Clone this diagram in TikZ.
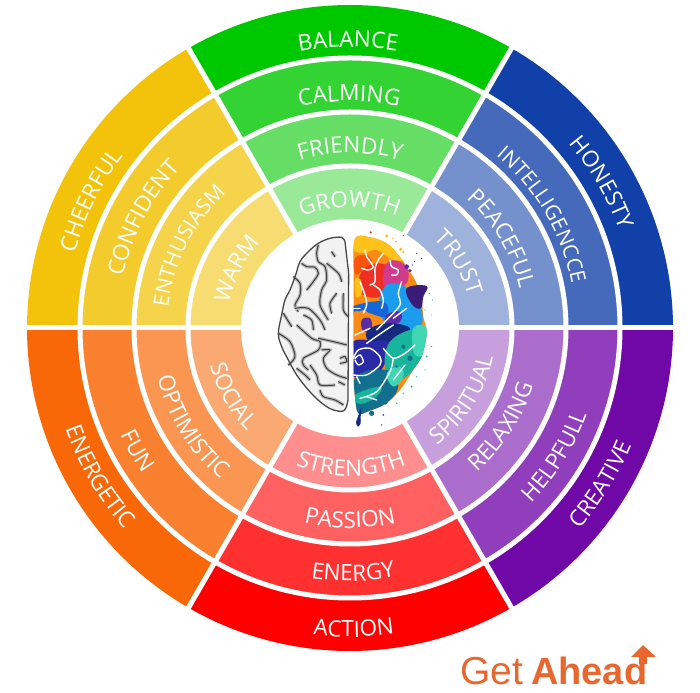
\documentclass[tikz,border=0pt]{standalone}
\usepackage{fontspec}
\setmainfont{Open Sans}
\newfontfamily\logofont{Liberation Sans}
\usetikzlibrary{decorations.text}

\definecolor{wheelyellow}{HTML}{F2C30A}
\definecolor{wheelgreen}{HTML}{00C800}
\definecolor{wheelblue}{HTML}{1040A8}
\definecolor{wheelpurple}{HTML}{7008A8}
\definecolor{wheelred}{HTML}{FF0000}
\definecolor{wheelorange}{HTML}{F86808}
\definecolor{logoorange}{HTML}{E8672E}

\definecolor{brainyellow}{HTML}{FFC21A}
\definecolor{brainorange}{HTML}{FA8C16}
\definecolor{brainred}{HTML}{EE2F24}
\definecolor{brainpink}{HTML}{D23A8C}
\definecolor{brainsky}{HTML}{1C9CEC}
\definecolor{brainblue}{HTML}{1666D8}
\definecolor{brainpurple}{HTML}{5B2CA8}
\definecolor{braindark}{HTML}{3A1C78}
\definecolor{brainnavy}{HTML}{162A80}
\definecolor{brainindigo}{HTML}{2B2AA6}
\definecolor{brainteal}{HTML}{18B49C}
\definecolor{brainmint}{HTML}{3FD6B4}
\definecolor{brainsea}{HTML}{126F8E}

\tikzset{
  gapline/.style={draw=white,line width=5pt},
  sulcus/.style={draw=black!75,line width=1pt,line cap=round,
    preaction={draw=black!28,line width=3.4pt}},
  vein/.style={draw=white,line width=1.4pt,line cap=round}
}

\newcommand{\colorwedge}[5]{
  \fill[#2] (0,0) -- (#1:323) arc[start angle=#1,end angle=#1+60,radius=323] -- cycle;
  \fill[#2!#3!white] (0,0) -- (#1:270) arc[start angle=#1,end angle=#1+60,radius=270] -- cycle;
  \fill[#2!#4!white] (0,0) -- (#1:216) arc[start angle=#1,end angle=#1+60,radius=216] -- cycle;
  \fill[#2!#5!white] (0,0) -- (#1:162) arc[start angle=#1,end angle=#1+60,radius=162] -- cycle;
}

\newcommand{\upperlabel}[4][22.5]{
  \path[decorate,decoration={text along path,text align=center,
    text={|\fontsize{#1}{#1}\selectfont\color{white}|#4}}]
    (#3+60:#2) arc[start angle=#3+60,end angle=#3-60,radius=#2];
}
\newcommand{\lowerlabel}[4][22.5]{
  \path[decorate,decoration={text along path,text align=center,
    text={|\fontsize{#1}{#1}\selectfont\color{white}|#4}}]
    (#3-60:#2) arc[start angle=#3-60,end angle=#3+60,radius=#2];
}

\newcommand{\brainblob}[2]{
  \fill[#1] plot[smooth cycle,tension=0.7] coordinates {#2};
}

\begin{document}
\begin{tikzpicture}[x=1pt,y=1pt]
  \useasboundingbox (0,0) rectangle (700,692);

  \begin{scope}[shift={(350,364)}]
    \colorwedge{0}{wheelblue}{78}{58}{40}
    \colorwedge{60}{wheelgreen}{80}{60}{40}
    \colorwedge{120}{wheelyellow}{86}{74}{58}
    \colorwedge{180}{wheelorange}{84}{70}{57}
    \colorwedge{240}{wheelred}{81}{62}{44}
    \colorwedge{300}{wheelpurple}{78}{59}{39}
    \fill[white] (0,0) circle (109);

    \draw[gapline] (0,0) circle (270);
    \draw[gapline] (0,0) circle (216);
    \draw[gapline] (0,0) circle (162);
    \draw[gapline] (0:109) -- (0:330);
    \draw[gapline] (60:109) -- (60:330);
    \draw[gapline] (120:109) -- (120:330);
    \draw[gapline] (180:109) -- (180:330);
    \draw[gapline] (240:109) -- (240:330);
    \draw[gapline] (300:109) -- (300:330);

    \upperlabel{281}{90.4}{BALANCE}
    \upperlabel{227}{90.2}{CALMING}
    \upperlabel{175}{90}{FRIENDLY}
    \upperlabel{121}{90.2}{GROWTH}

    \upperlabel{285}{153.8}{CHEERFUL}
    \upperlabel{233}{152}{CONFIDENT}
    \upperlabel[21]{183}{153}{ENTHUSIASM}
    \upperlabel{123}{152.5}{WARM}

    \upperlabel{286}{30}{HONESTY}
    \upperlabel[20.8]{226}{30.5}{INTELLIGENCCE}
    \upperlabel{174}{30.5}{PEACEFUL}
    \upperlabel{122}{31}{TRUST}

    \lowerlabel{305}{-32}{CREATIVE}
    \lowerlabel{252}{-32}{HELPFULL}
    \lowerlabel{192}{-33}{RELAXING}
    \lowerlabel{146}{-32.5}{SPIRITUAL}

    \lowerlabel{309}{270.7}{ACTION}
    \lowerlabel{253}{270.7}{ENERGY}
    \lowerlabel{200}{270}{PASSION}
    \lowerlabel{148}{270.4}{STRENGTH}

    \lowerlabel{302}{210.7}{ENERGETIC}
    \lowerlabel{253}{210}{FUN}
    \lowerlabel{199}{212}{OPTIMISTIC}
    \lowerlabel{145}{210}{SOCIAL}
  \end{scope}

  % brain, in pixels of a 3x crop
  \begin{scope}[shift={(230,492)},x=0.3333pt,y=-0.3333pt]
    \fill[black!5] plot[smooth,tension=0.6] coordinates {(345,125) (335,112) (300,115) (265,130) (235,155) (210,185) (197,225) (180,270) (165,300) (155,345) (145,400) (155,440) (175,480) (200,525) (235,570) (270,605) (305,628) (342,632) (354,600)} -- (356,220) -- cycle;
    \draw[sulcus] plot[smooth] coordinates {(265,135) (260,160) (265,185) (285,200) (290,240) (275,270) (270,315) (295,360)};
    \draw[sulcus] plot[smooth] coordinates {(215,190) (230,200) (255,202) (265,220) (250,245) (230,270)};
    \draw[sulcus] plot[smooth] coordinates {(190,230) (210,250) (210,285) (195,315) (205,335)};
    \draw[sulcus] plot[smooth] coordinates {(305,155) (315,170)};
    \draw[sulcus] plot[smooth] coordinates {(290,190) (325,220) (335,245)};
    \draw[sulcus] plot[smooth] coordinates {(320,280) (300,310) (305,340)};
    \draw[sulcus] plot[smooth] coordinates {(340,280) (340,330) (355,350)};
    \draw[sulcus] plot[smooth] coordinates {(195,325) (235,325) (270,360) (285,390)};
    \draw[sulcus] plot[smooth] coordinates {(160,340) (185,380)};
    \draw[sulcus] plot[smooth] coordinates {(220,345) (245,360) (250,390)};
    \draw[sulcus] plot[smooth] coordinates {(200,375) (245,415) (270,425) (265,450) (220,475) (220,495) (235,510)};
    \draw[sulcus] plot[smooth] coordinates {(145,400) (180,425) (195,470) (175,495)};
    \draw[sulcus] plot[smooth] coordinates {(265,415) (310,425) (350,435)};
    \draw[sulcus] plot[smooth] coordinates {(275,450) (300,450) (280,475) (290,505) (320,525) (350,535)};
    \draw[sulcus] plot[smooth] coordinates {(330,475) (345,470) (350,485) (330,490)};
    \draw[sulcus] plot[smooth] coordinates {(240,495) (260,525) (270,555) (315,555)};
    \draw[sulcus] plot[smooth] coordinates {(325,545) (345,555)};
    \draw[sulcus] plot[smooth] coordinates {(270,570) (280,590) (315,600) (340,615)};
    \draw[sulcus] plot[smooth] coordinates {(200,505) (225,525) (240,540)};
    \draw[black!72,line width=1.3pt] plot[smooth,tension=0.6] coordinates {(345,125) (335,112) (300,115) (265,130) (235,155) (210,185) (197,225) (180,270) (165,300) (155,345) (145,400) (155,440) (175,480) (200,525) (235,570) (270,605) (305,628) (342,632) (354,600)} -- (356,220) -- cycle;

    \begin{scope}
      \clip plot[smooth,tension=0.6] coordinates {(371,200) (375,115) (420,112) (470,130) (505,165) (530,200) (560,250) (575,300) (580,350) (590,400) (575,470) (550,510) (510,570) (470,610) (420,632) (385,640) (375,590) (371,540)} -- cycle;
      \fill[brainorange] (360,100) rectangle (600,650);
      \brainblob{brainyellow}{(365,100) (470,100) (525,170) (490,180) (440,150) (400,160) (365,145)}
      \brainblob{brainorange!60!red}{(375,175) (410,165) (425,190) (395,215) (375,220)}
      \brainblob{brainred}{(400,210) (440,190) (480,205) (470,250) (450,290) (400,285) (385,250)}
      \brainblob{brainpink}{(470,190) (510,185) (535,215) (525,255) (480,265) (460,250)}
      \brainblob{brainyellow}{(375,240) (392,240) (395,280) (378,290)}
      \brainblob{brainsky}{(450,290) (480,250) (540,270) (575,330) (565,385) (490,390) (450,340)}
      \brainblob{brainblue}{(365,320) (460,305) (470,350) (420,340) (400,330) (365,345)}
      \brainblob{brainorange}{(365,345) (400,340) (425,380) (410,425) (365,432)}
      \brainblob{brainpurple}{(395,360) (420,355) (425,385) (400,395)}
      \brainblob{brainpurple}{(470,345) (510,335) (510,365) (470,378)}
      \brainblob{brainnavy}{(410,395) (470,370) (540,385) (500,420) (430,432)}
      \brainblob{brainindigo}{(365,430) (430,422) (480,432) (460,500) (420,532) (365,522)}
      \brainblob{brainteal}{(480,425) (580,380) (600,410) (570,480) (520,535) (470,522)}
      \brainblob{brainmint}{(550,385) (595,385) (595,450) (555,465)}
      \brainblob{brainsea}{(375,535) (470,510) (505,560) (460,615) (385,645)}
      \brainblob{brainteal}{(375,585) (450,560) (440,590) (390,612)}
      \brainblob{brainmint}{(470,520) (510,500) (520,530) (490,560)}
      \fill[brainsea] (540,475) circle (8) (520,440) circle (6) (480,565) circle (6) (500,500) circle (4);
    \end{scope}
    \brainblob{braindark}{(530,265) (590,258) (580,290) (572,325) (545,312)}
    \fill[brainpurple] (530,200) circle (7) (540,212) circle (5);
    \fill[brainyellow] (470,108) circle (5) (498,125) circle (3) (488,115) circle (2) (512,148) circle (5) (520,156) circle (4);
    \fill[brainred] (422,97) circle (3.5) (520,107) circle (2);
    \fill[brainpurple] (560,160) circle (2) (575,175) circle (2) (553,185) circle (2) (548,195) circle (2);
    \fill[brainsky] (598,280) circle (2) (608,300) circle (2) (585,330) circle (2) (605,345) circle (1.5);
    \fill[brainteal] (605,440) circle (2) (590,470) circle (3) (585,510) circle (2) (560,530) circle (2) (545,560) circle (3) (520,580) circle (2) (500,610) circle (2.5);
    \fill[brainsea] (465,605) circle (9) (425,640) circle (8) (455,675) circle (2.5) (460,645) circle (3) (435,610) circle (7);
    \fill[brainnavy] plot[smooth cycle] coordinates {(394,622) (392,650) (392,670) (384,680) (378,668) (384,650)};

    \draw[vein] plot[smooth] coordinates {(395,205) (415,210) (430,200) (410,170) (405,150)};
    \draw[vein] plot[smooth] coordinates {(460,160) (445,180) (435,205) (435,245) (420,255)};
    \draw[vein] plot[smooth] coordinates {(390,245) (405,285) (410,315) (400,340)};
    \draw[vein] plot[smooth] coordinates {(480,180) (485,200) (505,210) (500,225) (485,225)};
    \draw[vein] plot[smooth] coordinates {(430,255) (450,270) (460,300) (455,325)};
    \draw[vein] plot[smooth] coordinates {(515,245) (505,280) (510,315) (470,360) (440,390)};
    \draw[vein] plot[smooth] coordinates {(490,355) (530,325)};
    \draw[vein] plot[smooth] coordinates {(370,325) (390,325)};
    \draw[vein] plot[smooth] coordinates {(375,475) (390,465) (400,485) (385,495) (375,480)};
    \draw[vein] plot[smooth] coordinates {(370,525) (410,525) (450,495) (450,470) (420,445) (385,450) (370,475)};
    \draw[vein] plot[smooth] coordinates {(410,430) (460,395) (490,375)};
    \draw[vein] plot[smooth] coordinates {(460,445) (490,475) (525,460) (555,435)};
    \draw[vein] plot[smooth] coordinates {(490,475) (480,515) (440,575) (390,595)};
    \draw[vein] plot[smooth] coordinates {(380,530) (390,550)};
    \draw[vein] plot[smooth] coordinates {(410,590) (440,600)};
    \draw[vein] plot[smooth] coordinates {(490,540) (525,495)};
    \draw[vein] plot[smooth] coordinates {(375,405) (420,385)};
  \end{scope}

  \node[anchor=base west,inner sep=0pt,text=logoorange,font=\logofont\fontsize{39}{39}\selectfont] (getword) at (460,7) {Get};
  \node[anchor=base west,inner sep=0pt,text=logoorange,font=\logofont\bfseries\fontsize{38}{38}\selectfont] (aheadword) at (531,7) {Ahead};
  \fill[logoorange] (643,47) -- (656,35) -- (647,35) -- (647,28) -- (639,28) -- (639,35) -- (631,35) -- cycle;
\end{tikzpicture}
\end{document}
